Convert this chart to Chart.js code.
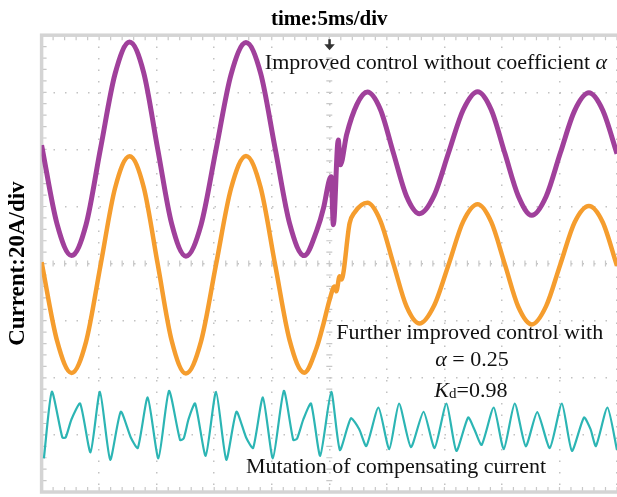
<!DOCTYPE html>
<html>
<head>
<meta charset="utf-8">
<script src="https://cdn.jsdelivr.net/npm/chart.js@4.4.1/dist/chart.umd.min.js"></script>
<style>
html, body { margin: 0; padding: 0; background: #fff; }
</style>
</head>
<body>
<canvas id="scope" width="617" height="497"></canvas>
<script>
// time in ms (5 ms/div), current in A (20 A/div)
const purpleT = [0, 1.34, 2.6, 3.86, 5.12, 6.38, 7.64, 8.87, 10.09, 11.31, 12.54, 13.85, 15.15, 16.46, 17.76, 19.03, 20.29, 21.56, 22.82, 23.9,
    24.5, 25.0, 25.17, 25.35, 25.78, 25.96, 26.5, 27.4, 28.31, 29.44, 30.58, 31.71, 32.84, 34.1, 35.37, 36.63, 37.89, 39.07, 40.25, 41.42,
    42.6, 43.84, 45.08, 46.32, 47.56, 48.76, 50];
const purpleI = [41.5, 13.9, 2.8, 13.6, 40.3, 66.4, 77.6, 66.9, 40.1, 13.8, 2.6, 13.5, 39.8, 66.2, 77.4, 66.7, 40.4, 13.9, 2.8, 11.5,
    19.5, 29.3, 30.4, 13.6, 43.3, 34.6, 45.1, 55.8, 60.1, 54.0, 38.6, 23.6, 17.5, 23.8, 38.9, 53.8, 60.2, 53.9, 38.7, 23.7,
    16.9, 23.5, 38.8, 53.6, 59.8, 53.7, 38.5];

const orangeT = [0, 1.34, 2.6, 3.86, 5.12, 6.38, 7.64, 8.87, 10.09, 11.31, 12.54, 13.85, 15.15, 16.46, 17.76, 19.03, 20.29, 21.56, 22.82, 23.9,
    24.5, 25.03, 25.46, 25.61, 25.9, 26.05, 26.77, 27.18, 28.31, 29.44, 30.58, 31.71, 32.84, 34.1, 35.37, 36.63, 37.89, 39.07, 40.25, 41.42,
    42.6, 43.84, 45.08, 46.32, 47.56, 48.76, 50];
const orangeI = [0.5, -27.0, -38.3, -27.4, -0.6, 26.4, 37.6, 26.8, -0.2, -27.1, -38.5, -27.3, -0.5, 26.3, 37.7, 26.7, -0.3, -27.0, -38.2, -29.5,
    -21.0, -12.6, -8.0, -9.7, -4.4, -5.6, 14.2, 17.8, 21.3, 15.0, -0.2, -15.0, -21.0, -14.8, -0.3, 14.7, 20.8, 14.6, -0.2, -15.1,
    -21.3, -14.9, -0.2, 14.5, 20.2, 14.5, -0.8];

const tealT = [0.2, 0.89, 1.80, 2.09, 2.60, 3.35, 4.25, 5.07, 5.96, 6.88, 7.75, 8.36, 9.22, 10.15, 11.07, 12.03, 12.35, 12.77, 13.34, 14.26,
    15.16, 16.05, 16.93, 17.77, 18.38, 19.23, 20.10, 21.05, 21.87, 22.2, 22.75, 23.41, 24.21, 25.17, 25.92, 26.88, 27.6, 28.22, 29.27, 30.21,
    31.06, 32.09, 33.19, 34.15, 35.18, 36.04, 37.06, 37.6, 38.24, 39.29, 40.16, 41.11, 42.07, 43.07, 44.16, 45.21, 46.08, 47.13, 47.7, 48.17,
    49.17, 50];
const tealI = [-68.2, -44.9, -60.9, -60.9, -54.5, -49.0, -66.1, -44.9, -68.7, -51.9, -60.9, -64.6, -46.9, -68.2, -44.6, -61.8, -61.2, -54.5, -49.0, -67.3,
    -44.9, -68.7, -51.9, -60.9, -64.6, -46.9, -68.2, -44.6, -61.8, -61.3, -54.5, -49.0, -67.3, -44.9, -65.3, -54.2, -58.0, -63.9, -50.4, -65.0,
    -49.0, -64.3, -51.9, -64.6, -49.0, -65.6, -53.9, -58.0, -63.5, -50.4, -65.0, -49.0, -64.0, -52.0, -64.6, -49.0, -65.6, -53.9, -58.0, -63.9,
    -50.4, -65.3];

const serif = '"Liberation Serif", "Times New Roman", serif';

function pts(ts, vs) {
    return ts.map((t, i) => ({ x: t, y: vs[i] }));
}

// text runs so that italic symbols and the subscript stay real text
function drawRuns(ctx, runs, x, y, align) {
    let total = 0;
    runs.forEach(r => { ctx.font = r.font; total += ctx.measureText(r.text).width; });
    let cx = align === 'center' ? x - total / 2 : x;
    ctx.textBaseline = 'middle';
    ctx.textAlign = 'left';
    runs.forEach(r => {
        ctx.font = r.font;
        ctx.fillText(r.text, cx, y + (r.dy || 0));
        cx += ctx.measureText(r.text).width;
    });
}

const scopeDecor = {
    id: 'scopeDecor',
    beforeDatasetsDraw(chart) {
        const { ctx, chartArea: a, scales: { x, y } } = chart;
        ctx.save();
        ctx.strokeStyle = '#c8c8c8';
        ctx.lineWidth = 1.2;
        ctx.beginPath();
        const cy = y.getPixelForValue(0);
        const cx = x.getPixelForValue(25);
        for (let t = 0; t <= 50; t += 1) {
            const px = x.getPixelForValue(t);
            ctx.moveTo(px, a.top); ctx.lineTo(px, a.top + 5);
            ctx.moveTo(px, a.bottom); ctx.lineTo(px, a.bottom - 5);
            ctx.moveTo(px, cy - 3); ctx.lineTo(px, cy + 3);
        }
        for (let v = -80; v <= 80; v += 4) {
            const py = y.getPixelForValue(v);
            ctx.moveTo(a.left, py); ctx.lineTo(a.left + 5, py);
            ctx.moveTo(cx - 3, py); ctx.lineTo(cx + 3, py);
        }
        ctx.stroke();
        ctx.strokeStyle = '#d4d4d4';
        ctx.lineWidth = 3.5;
        ctx.strokeRect(a.left, a.top, a.right - a.left + 4, a.bottom - a.top);
        ctx.restore();
    },
    afterDatasetsDraw(chart) {
        const { ctx, scales: { x, y } } = chart;
        ctx.save();
        // trigger marker
        const mx = x.getPixelForValue(25);
        const my = chart.chartArea.top;
        ctx.fillStyle = '#333';
        ctx.fillRect(mx - 1, my + 4, 2.5, 7);
        ctx.beginPath();
        ctx.moveTo(mx - 5, my + 9);
        ctx.lineTo(mx + 5.5, my + 9);
        ctx.lineTo(mx + 0.25, my + 15);
        ctx.closePath();
        ctx.fill();

        ctx.fillStyle = '#111';
        const reg = '22px ' + serif;
        const ita = 'italic 22px ' + serif;
        drawRuns(ctx, [
            { text: 'Improved control without coefficient ', font: reg },
            { text: 'α', font: ita }
        ], x.getPixelForValue(19.4), y.getPixelForValue(70.2), 'left');
        drawRuns(ctx, [{ text: 'Further improved control with', font: reg }],
            x.getPixelForValue(37.2), y.getPixelForValue(-24.4), 'center');
        drawRuns(ctx, [
            { text: 'α', font: ita },
            { text: ' = 0.25', font: reg }
        ], x.getPixelForValue(37.4), y.getPixelForValue(-33.8), 'center');
        drawRuns(ctx, [
            { text: 'K', font: ita },
            { text: 'd', font: '15px ' + serif, dy: 3 },
            { text: '=0.98', font: reg }
        ], x.getPixelForValue(37.3), y.getPixelForValue(-44.6), 'center');
        drawRuns(ctx, [{ text: 'Mutation of compensating current', font: reg }],
            x.getPixelForValue(30.8), y.getPixelForValue(-71.4), 'center');
        ctx.restore();
    }
};

const ctx = document.getElementById('scope').getContext('2d');
const scopeChart = new Chart(ctx, {
    type: 'line',
    data: {
        datasets: [
            {
                label: 'Improved control without coefficient α',
                data: pts(purpleT, purpleI),
                borderColor: '#a0409b',
                borderWidth: 5,
                cubicInterpolationMode: 'monotone'
            },
            {
                label: 'Further improved control',
                data: pts(orangeT, orangeI),
                borderColor: '#f59d2e',
                borderWidth: 4.5,
                cubicInterpolationMode: 'monotone'
            },
            {
                label: 'Mutation of compensating current',
                data: pts(tealT, tealI),
                borderColor: '#2cb5b4',
                borderWidth: 2.2,
                tension: 0.2
            }
        ]
    },
    options: {
        responsive: false,
        animation: false,
        devicePixelRatio: 1,
        elements: { point: { radius: 0 } },
        layout: { padding: { left: 0, right: 0, top: 0, bottom: 5 } },
        plugins: {
            legend: { display: false },
            tooltip: { enabled: false }
        },
        scales: {
            x: {
                type: 'linear',
                position: 'top',
                min: 0,
                max: 50,
                ticks: { stepSize: 5, display: false },
                grid: { color: '#c2c2c2', lineWidth: 1.5, drawTicks: false },
                border: { display: false, dash: [1.5, 10] },
                title: {
                    display: true,
                    text: 'time:5ms/div',
                    color: '#000',
                    font: { family: serif, size: 21, weight: 'bold' },
                    padding: { top: 7, bottom: 3 }
                }
            },
            y: {
                min: -80,
                max: 80,
                ticks: { stepSize: 20, display: false },
                grid: { color: '#c2c2c2', lineWidth: 1.5, drawTicks: false },
                border: { display: false, dash: [1.5, 10] },
                title: {
                    display: true,
                    text: 'Current:20A/div',
                    color: '#000',
                    font: { family: serif, size: 23, weight: 'bold' },
                    padding: { top: 4, bottom: 10 }
                }
            }
        }
    },
    plugins: [scopeDecor]
});
</script>
</body>
</html>
